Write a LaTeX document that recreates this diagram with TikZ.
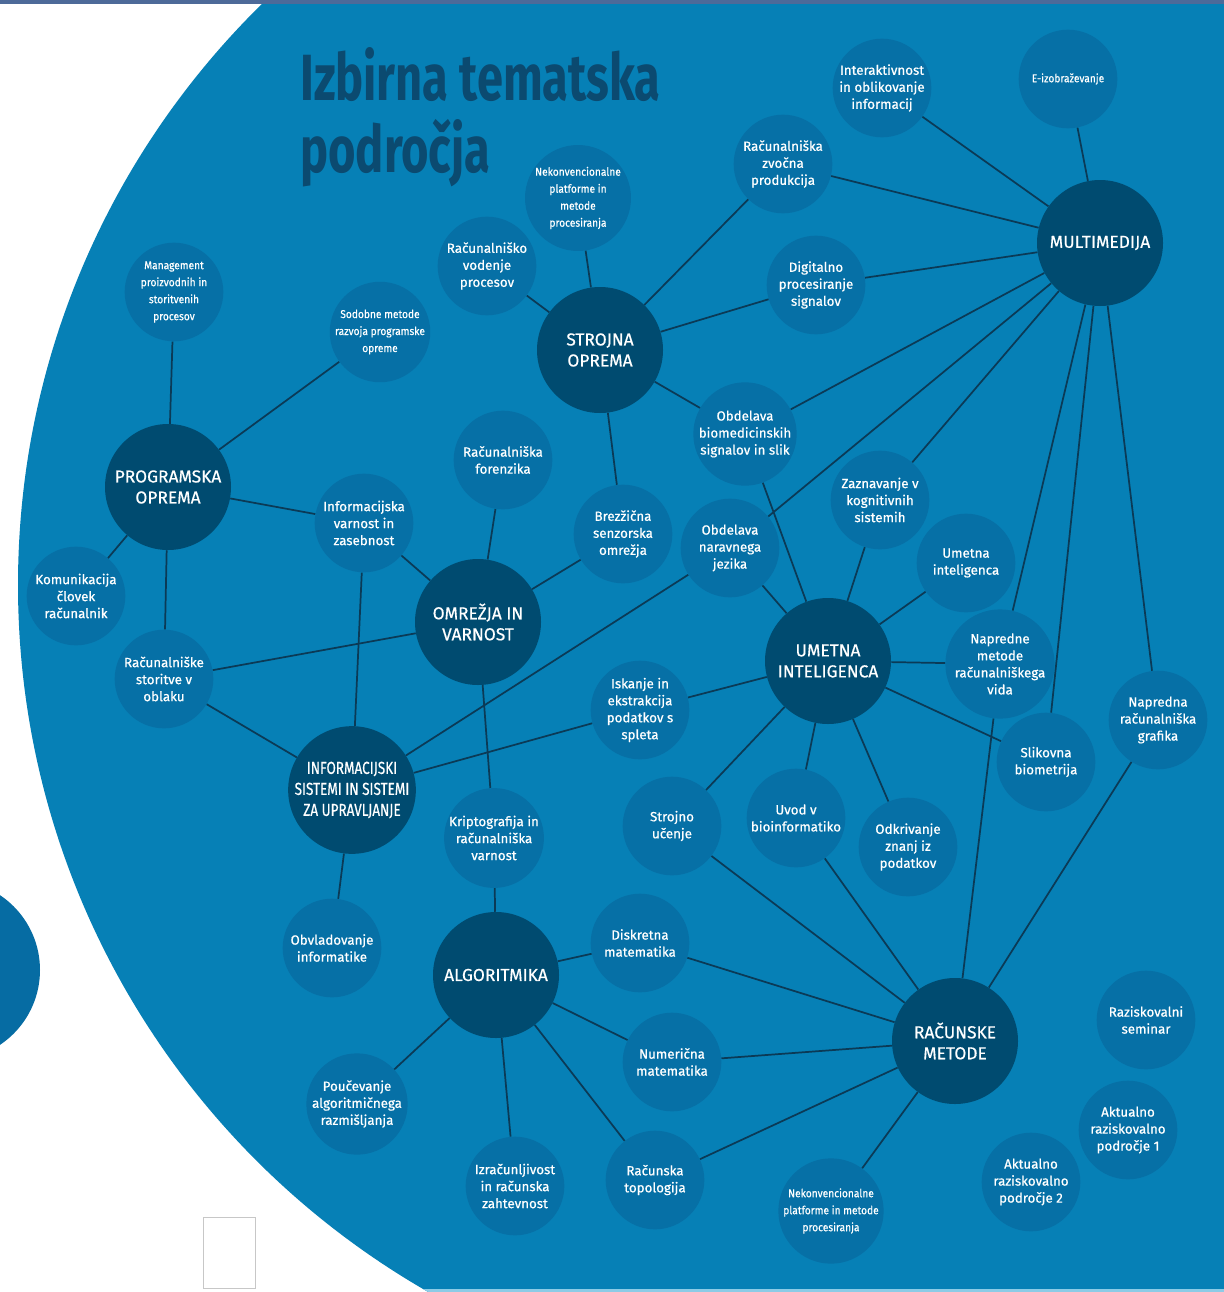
\documentclass[tikz,border=0pt]{standalone}
\usepackage{fontspec}
\setmainfont{Fira Sans}
\newfontfamily\topicface[FakeBold=0.6]{Fira Sans}
\newfontfamily\condfont[FakeStretch=0.9,FakeBold=0.4]{Fira Sans}
\newfontfamily\isfont[FakeStretch=0.78,FakeBold=0.5]{Fira Sans}
\newfontfamily\hubface[FakeBold=0.5]{Fira Sans}
\newfontfamily\titlefont[FakeStretch=0.72]{Fira Sans}
\definecolor{bgblue}{HTML}{0680B6}
\definecolor{topicblue}{HTML}{0670A6}
\definecolor{leftblue}{HTML}{066CA3}
\definecolor{hubblue}{HTML}{004B70}
\definecolor{edgeblue}{HTML}{0B3A56}
\definecolor{titleblue}{HTML}{0B4A70}
\definecolor{topbar}{HTML}{4D6A99}
\definecolor{bottomline}{HTML}{8CCBE6}
\newcommand\topicfont{\topicface\fontsize{10}{12.75}\selectfont}
\newcommand\smalltopicfont{\condfont\fontsize{8.5}{12.75}\selectfont}
\newcommand\hubfont{\hubface\fontsize{13}{15.75}\selectfont}
\tikzset{
  hubnode/.style={circle, fill=hubblue, minimum size=94.5pt, inner sep=0pt, text=white, align=center, font=\hubfont},
  topicnode/.style={circle, fill=topicblue, minimum size=74pt, inner sep=0pt, text=white, align=center, font=\topicfont},
  smalltopic/.style={topicnode, font=\smalltopicfont},
  link/.style={draw=edgeblue, line width=1.3pt},
}
\begin{document}
\begin{tikzpicture}[x=0.75pt, y=-0.75pt]
\useasboundingbox (0,0) rectangle (1224,1292);
\clip (0,0) rectangle (1224,1292);
\fill[white] (0,0) rectangle (1224,1292);
\fill[bgblue] (832,585) circle (814);
\fill[leftblue] (-50,970) circle (90);
\begin{scope}
  \clip (832,585) circle (814);
  \fill[bottomline] (0,1289) rectangle (1224,1292);
\end{scope}
\fill[topbar] (0,0) rectangle (1224,4);
\draw[black!22, line width=0.9pt, fill=white] (203.5,1217.5) rectangle (255.5,1288.5);

% title
\node[anchor=base west, inner sep=0pt, text=titleblue, font=\titlefont\bfseries\fontsize{49}{49}\selectfont] (title1) at (300,100) {Izbirna tematska};
\node[anchor=base west, inner sep=0pt, text=titleblue, font=\titlefont\bfseries\fontsize{49}{49}\selectfont] (title2) at (300,172) {področja};

% hubs
\node[hubnode] (mm) at (1100,243) {MULTIMEDIJA};
\node[hubnode] (so) at (600,350) {STROJNA\\OPREMA};
\node[hubnode] (po) at (168,487) {PROGRAMSKA\\OPREMA};
\node[hubnode] (om) at (478,622) {OMREŽJA IN\\VARNOST};
\node[hubnode] (ui) at (828,661) {UMETNA\\INTELIGENCA};
\node[hubnode, font=\isfont\fontsize{13}{15.75}\selectfont] (is) at (352,790) {INFORMACIJSKI\\SISTEMI IN SISTEMI\\ZA UPRAVLJANJE};
\node[hubnode] (al) at (496,975) {ALGORITMIKA};
\node[hubnode] (rm) at (955,1041) {RAČUNSKE\\METODE};

% topics
\node[topicnode] (inter) at (882,88) {Interaktivnost\\in oblikovanje\\informacij};
\node[smalltopic] (eizo) at (1068,79) {E-izobraževanje};
\node[topicnode] (zvocna) at (783,164) {Računalniška\\zvočna\\produkcija};
\node[smalltopic] (nekon1) at (578,198) {Nekonvencionalne\\platforme in\\metode\\procesiranja};
\node[topicnode] (vodenje) at (487,266) {Računalniško\\vodenje\\procesov};
\node[topicnode] (digit) at (816,285) {Digitalno\\procesiranje\\signalov};
\node[smalltopic] (manag) at (174,292) {Management\\proizvodnih in\\storitvenih\\procesov};
\node[smalltopic] (sodob) at (380,332) {Sodobne metode\\razvoja programske\\opreme};
\node[topicnode] (biomed) at (745,434) {Obdelava\\biomedicinskih\\signalov in slik};
\node[topicnode] (forenz) at (503,460) {Računalniška\\forenzika};
\node[topicnode] (zaznav) at (880,500) {Zaznavanje v\\kognitivnih\\sistemih};
\node[topicnode] (infovar) at (364,523) {Informacijska\\varnost in\\zasebnost};
\node[topicnode] (brezz) at (623,534) {Brezžična\\senzorska\\omrežja};
\node[topicnode] (nlp) at (730,548) {Obdelava\\naravnega\\jezika};
\node[topicnode] (umint) at (966,563) {Umetna\\inteligenca};
\node[topicnode] (komun) at (76,596) {Komunikacija\\človek\\računalnik};
\node[topicnode] (vida) at (1000,664) {Napredne\\metode\\računalniškega\\vida};
\node[topicnode] (oblak) at (164,679) {Računalniške\\storitve v\\oblaku};
\node[topicnode] (iskanje) at (640,710) {Iskanje in\\ekstrakcija\\podatkov s\\spleta};
\node[topicnode] (grafika) at (1158,720) {Napredna\\računalniška\\grafika};
\node[topicnode] (slik) at (1046,762) {Slikovna\\biometrija};
\node[topicnode] (strojno) at (672,826) {Strojno\\učenje};
\node[topicnode] (uvod) at (796,818) {Uvod v\\bioinformatiko};
\node[topicnode] (kripto) at (494,838) {Kriptografija in\\računalniška\\varnost};
\node[topicnode] (odkriv) at (908,847) {Odkrivanje\\znanj iz\\podatkov};
\node[topicnode] (diskr) at (640,943) {Diskretna\\matematika};
\node[topicnode] (obvlad) at (332,948) {Obvladovanje\\informatike};
\node[topicnode] (razisk) at (1146,1020) {Raziskovalni\\seminar};
\node[topicnode] (numer) at (672,1062) {Numerična\\matematika};
\node[topicnode] (poucev) at (357,1104) {Poučevanje\\algoritmičnega\\razmišljanja};
\node[topicnode] (akt1) at (1128,1130) {Aktualno\\raziskovalno\\področje 1};
\node[topicnode] (izrac) at (515,1186) {Izračunljivost\\in računska\\zahtevnost};
\node[topicnode] (topol) at (655,1180) {Računska\\topologija};
\node[topicnode] (akt2) at (1031,1182) {Aktualno\\raziskovalno\\področje 2};
\node[smalltopic] (nekon2) at (831,1211) {Nekonvencionalne\\platforme in metode\\procesiranja};

% connectors
\foreach \t in {inter,eizo,zvocna,digit,biomed,nlp,zaznav,vida,slik,grafika}
  \draw[link] (mm) -- (\t);
\foreach \t in {vodenje,nekon1,zvocna,digit,biomed,brezz}
  \draw[link] (so) -- (\t);
\foreach \t in {manag,sodob,infovar,komun,oblak}
  \draw[link] (po) -- (\t);
\foreach \t in {forenz,infovar,brezz,oblak,kripto}
  \draw[link] (om) -- (\t);
\foreach \t in {biomed,nlp,zaznav,umint,vida,slik,iskanje,strojno,uvod,odkriv}
  \draw[link] (ui) -- (\t);
\foreach \t in {infovar,oblak,nlp,iskanje,obvlad}
  \draw[link] (is) -- (\t);
\foreach \t in {kripto,diskr,numer,poucev,izrac,topol}
  \draw[link] (al) -- (\t);
\foreach \t in {vida,grafika,diskr,numer,topol,strojno,uvod,nekon2}
  \draw[link] (rm) -- (\t);
\end{tikzpicture}
\end{document}
